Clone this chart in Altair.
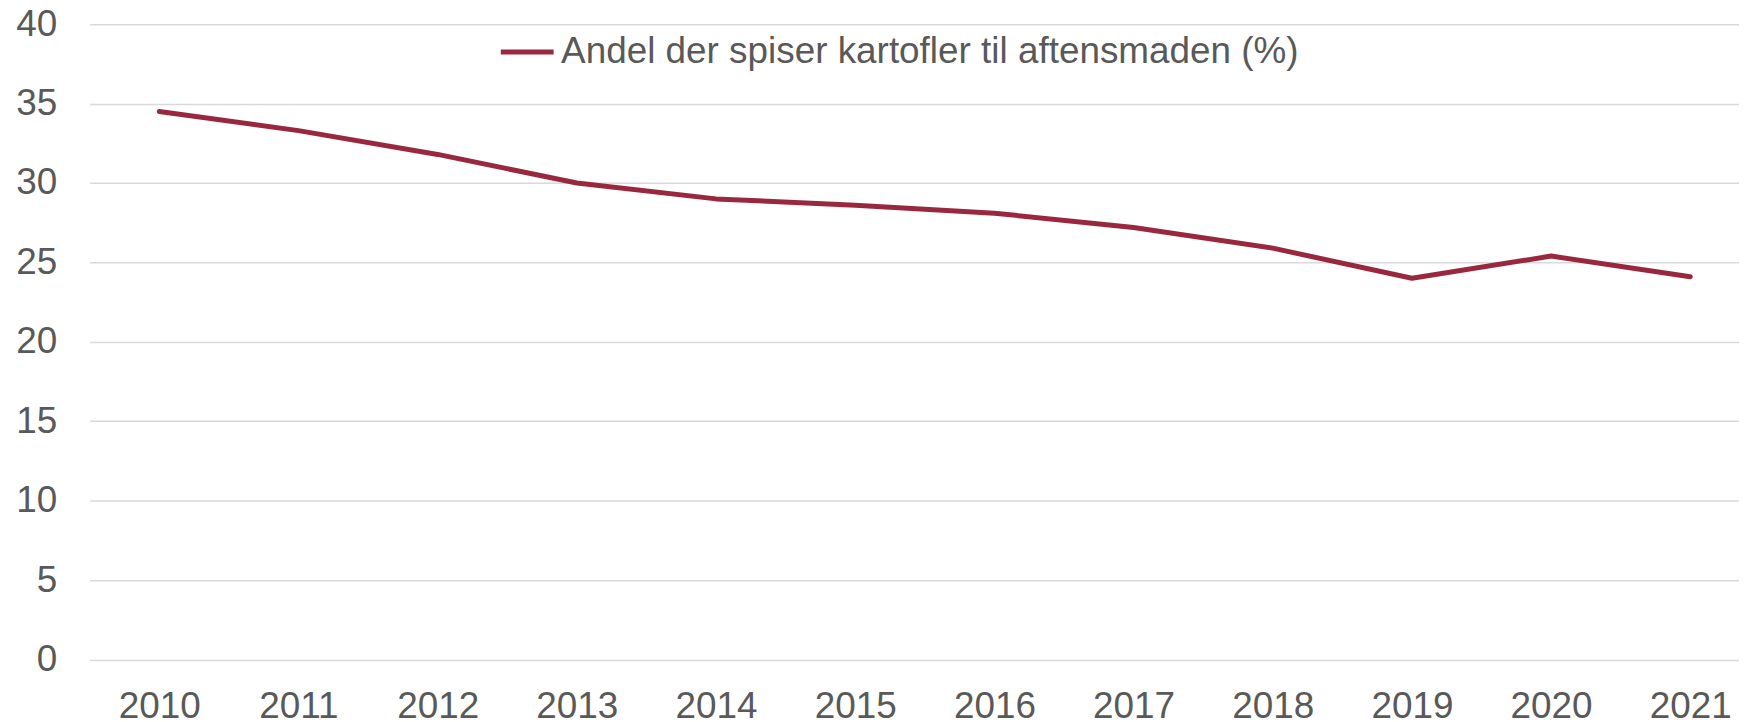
import altair as alt
import pandas as pd

years = [2010, 2011, 2012, 2013, 2014, 2015, 2016, 2017, 2018, 2019, 2020, 2021]
values = [34.5, 33.3, 31.8, 30.0, 29.0, 28.6, 28.1, 27.2, 25.9, 24.0, 25.4, 24.1]
series_name = "Andel der spiser kartofler til aftensmaden (%)"
y_ticks = [0, 5, 10, 15, 20, 25, 30, 35, 40]

df = pd.DataFrame({"year": years, "value": values, "series": [series_name] * len(years)})

FONT = "Liberation Sans, Arial, Helvetica, sans-serif"
TXT = "#595959"
LINE = "#99283F"

chart = (
    alt.Chart(df)
    .mark_line(strokeWidth=5, strokeCap="round", strokeJoin="round")
    .encode(
        x=alt.X(
            "year:Q",
            scale=alt.Scale(domain=[2009.5, 2021.35], nice=False, zero=False),
            axis=alt.Axis(
                values=years, format="d", title=None, grid=False, ticks=False,
                domain=False, labelFontSize=37, labelPadding=29, labelFlush=False,
                labelColor=TXT, labelFont=FONT,
            ),
        ),
        y=alt.Y(
            "value:Q",
            scale=alt.Scale(domain=[0, 40], nice=False),
            axis=alt.Axis(
                values=y_ticks, title=None, ticks=False, domain=False,
                gridColor="#D9D9D9", gridWidth=1.5, labelPadding=33,
                labelFontSize=37, labelColor=TXT, labelFont=FONT,
            ),
        ),
        color=alt.Color(
            "series:N",
            scale=alt.Scale(range=[LINE]),
            legend=alt.Legend(
                title=None, orient="none", legendX=410, legendY=-1,
                symbolType="stroke", symbolSize=2809, symbolStrokeWidth=5,
                labelFontSize=37, labelColor=TXT, labelFont=FONT, labelLimit=0,
                padding=0, labelOffset=5,
            ),
        ),
    )
    .properties(
        width=1655, height=637.5, autosize="none",
        padding={"left": 82, "top": 15, "right": 0, "bottom": 66},
    )
    .configure_view(stroke=None)
)

chart.save("out.html", embed_options={"renderer": "svg", "actions": False})
